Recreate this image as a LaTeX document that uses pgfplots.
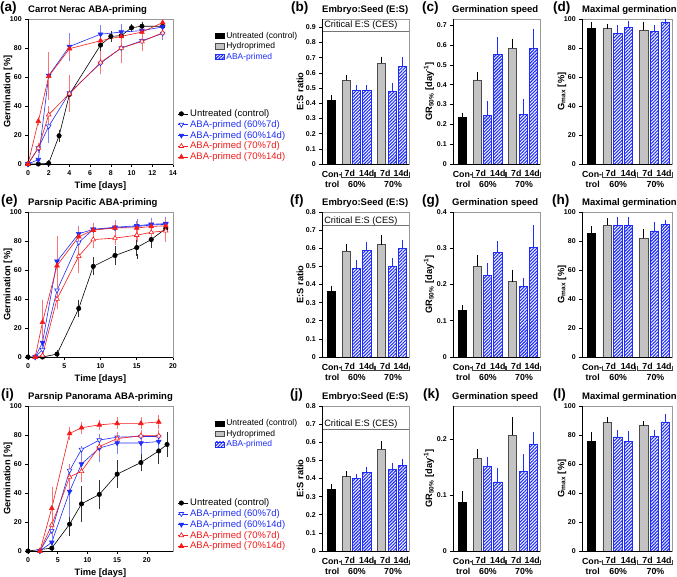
\documentclass[border=0pt]{standalone}
\usepackage{fontspec}
\setmainfont{Liberation Sans}
\usepackage{pgfplots}
\pgfplotsset{compat=1.18}
\usetikzlibrary{patterns.meta}

\definecolor{myblue}{RGB}{30,45,250}
\definecolor{myred}{RGB}{245,25,25}
\definecolor{hydro}{RGB}{195,195,195}

\tikzset{
  aba/.style={pattern={Lines[angle=45,distance=2.3pt,line width=1.1pt]}, pattern color=myblue, draw=myblue, line width=0.6pt},
  hyd/.style={fill=hydro, draw=black!70, line width=0.6pt},
  ctl/.style={fill=black, draw=black, line width=0.6pt},
  lbl/.style={font=\bfseries\fontsize{8.8}{9}\selectfont, inner sep=0pt},
  letter/.style={anchor=west, font=\bfseries\fontsize{13.5}{14}\selectfont, inner sep=0pt},
  ttl/.style={anchor=west, font=\bfseries\fontsize{9.5}{10}\selectfont, inner sep=0pt},
  ces/.style={anchor=west, inner sep=0pt, font=\fontsize{9.2}{10}\selectfont},
}

\pgfplotsset{
  base/.style={
    scale only axis, clip=false,
    axis line style={draw=black!40, line width=0.7pt},
    tick style={black, line width=0.6pt},
    tick align=outside, xtick pos=bottom, ytick pos=left,
    major tick length=2.8pt,
    ticklabel style={font=\bfseries\fontsize{7}{8}\selectfont},
    label style={font=\bfseries\fontsize{9.3}{10}\selectfont},
    /pgf/number format/assume math mode=true,
    /pgf/number format/fixed,
    /pgf/number format/precision=2,
  },
  ylab/.style={every axis y label/.append style={at={([xshift=-#1]rel axis cs:0,0.5)}, anchor=center}},
  gline/.style={base, width=145pt, height=145pt, ymin=0, ymax=100,
    ytick={0,20,40,60,80,100}, xmin=0,
    xlabel={Time [days]}, ylabel={Germination [\%]}, ylab=20pt},
  gbar/.style={base, height=145pt, xmin=-0.9, xmax=7.55, xtick=\empty, ymin=0},
  esax/.style={gbar, width=87pt, ylabel={E:S ratio}, ylab=22pt},
  grax/.style={gbar, width=87pt, ylabel={GR\textsubscript{50\%} [day\textsuperscript{-1}]}, ylab=24pt},
  gmax/.style={gbar, width=90pt, ymax=100, ytick={0,20,40,60,80,100},
    ylabel={G\textsubscript{max} [\%]}, ylab=20pt},
  ebar/.style={error bars/y dir=both, error bars/y explicit,
    error bars/error bar style={#1, line width=0.5pt},
    error bars/error mark options={#1, mark size=2.4pt, line width=0.5pt}},
  eup/.style={error bars/y dir=plus, error bars/y explicit,
    error bars/error bar style={#1, line width=0.6pt},
    error bars/error mark options={#1, mark size=2.6pt, line width=0.6pt}},
  barc/.style={ybar, bar width=0.78, bar shift=0pt},
  untr/.style={black, line width=0.6pt, mark=*, mark size=2.2pt,
    mark options={solid, fill=black}, ebar=black!80},
  pA/.style={myblue, line width=0.6pt, mark=triangle*, mark size=2.7pt,
    mark options={solid, rotate=180, fill=white}, ebar=myblue!60},
  pB/.style={myblue, line width=0.6pt, mark=triangle*, mark size=2.7pt,
    mark options={solid, rotate=180, fill=myblue}, ebar=myblue!60},
  pC/.style={myred, line width=0.6pt, mark=triangle*, mark size=2.7pt,
    mark options={solid, fill=white}, ebar=myred!60},
  pD/.style={myred, line width=0.6pt, mark=triangle*, mark size=2.7pt,
    mark options={solid, fill=myred}, ebar=myred!60},
  linelegend/.style={
    legend style={at={#1}, anchor=north west, draw=none, fill=none,
      font=\fontsize{9.5}{11}\selectfont, row sep=-1.6pt, inner sep=0pt,
      cells={anchor=west}},
    legend image code/.code={%
      \draw[mark repeat=2, mark phase=2, ##1] plot coordinates {(0pt,0pt) (3.5pt,0pt) (10pt,0pt)};}},
  barlegend/.style={scale only axis, width=145pt, height=145pt, hide axis,
    xmin=0, xmax=1, ymin=0, ymax=1,
    legend style={at={#1}, anchor=north west, draw=none, fill=none,
      font=\fontsize{8.5}{10}\selectfont, row sep=-1.2pt, inner sep=0pt,
      cells={anchor=west}},
    legend image code/.code={\draw[##1] (0pt,-2.6pt) rectangle (8.5pt,2.6pt);}},
}

% group labels under the seven bars
\newcommand{\barlabels}{%
  \node[lbl] at ([yshift=-10pt]axis cs:0.05,0) {Con-};
  \node[lbl] at ([yshift=-20pt]axis cs:0.1,0) {trol};
  \node[lbl] at ([yshift=-9.5pt]axis cs:1.8,0) {7d};
  \node[lbl] at ([yshift=-9.5pt]axis cs:3.45,0) {14d};
  \node[lbl] at ([yshift=-9.5pt]axis cs:5.25,0) {7d};
  \node[lbl] at ([yshift=-9.5pt]axis cs:6.8,0) {14d};
  \node[lbl] at ([yshift=-20pt]axis cs:2.5,0) {60\%};
  \node[lbl] at ([yshift=-20pt]axis cs:6.0,0) {70\%};
  \draw[black!75, line width=0.5pt] ([yshift=-8.5pt]axis cs:0.99,0) -- ([yshift=-13.7pt]axis cs:0.99,0) -- ([yshift=-13.7pt]axis cs:4.14,0) -- ([yshift=-8.5pt]axis cs:4.14,0);
  \draw[black!75, line width=0.5pt] ([yshift=-8.5pt]axis cs:4.3,0) -- ([yshift=-13.7pt]axis cs:4.3,0) -- ([yshift=-13.7pt]axis cs:7.53,0) -- ([yshift=-8.5pt]axis cs:7.53,0);
}
\newcommand{\blackframe}{%
  \draw[black, line width=0.8pt] (rel axis cs:0,1) -- (rel axis cs:0,0) -- (rel axis cs:1,0);}

\begin{document}
\begin{tikzpicture}[x=1pt, y=1pt]
\useasboundingbox (0,0) rectangle (677,-577);

% ---------------- panel letters and titles ----------------
\node[letter] at (0,-8) {(a)};   \node[ttl] at (28,-10.3) {Carrot Nerac ABA-priming};
\node[letter] at (291,-8) {(b)}; \node[ttl] at (322,-10.3) {Embryo:Seed (E:S)};
\node[letter] at (422,-8) {(c)}; \node[ttl] at (452,-10.3) {Germination speed};
\node[letter] at (553,-8) {(d)}; \node[ttl] at (582,-10.3) {Maximal germination};

\node[letter] at (1,-201.5) {(e)};   \node[ttl] at (28,-203.5) {Parsnip Pacific ABA-priming};
\node[letter] at (290,-201.5) {(f)}; \node[ttl] at (322,-203.5) {Embryo:Seed (E:S)};
\node[letter] at (422,-201.5) {(g)}; \node[ttl] at (452,-203.5) {Germination speed};
\node[letter] at (552,-201.5) {(h)}; \node[ttl] at (582,-203.5) {Maximal germination};

\node[letter] at (1,-395) {(i)};   \node[ttl] at (28,-397) {Parsnip Panorama ABA-priming};
\node[letter] at (290,-395) {(j)}; \node[ttl] at (322,-397) {Embryo:Seed (E:S)};
\node[letter] at (423,-395) {(k)}; \node[ttl] at (452,-397) {Germination speed};
\node[letter] at (553,-395) {(l)}; \node[ttl] at (582,-397) {Maximal germination};

% ================= Row 1: Carrot Nerac =================
\begin{axis}[gline, at={(28pt,-164pt)}, anchor=south west, xmax=14,
  xtick={0,2,4,6,8,10,12,14}, linelegend={(1.03,0.39)}]
\addplot[untr] coordinates {(0,0) (1,0) (2,0.5) +- (0,0.5) (3,19.5) +- (0,2.5) (4,48) +- (0,2)
  (7,82) +- (0,2.5) (8,88) +- (0,2) (9,88.5) +- (0,1.5) (10,94) +- (0,1) (11,95) +- (0,1.5) (13,95) +- (0,1)};
\addlegendentry{Untreated (control)}
\addplot[pA] coordinates {(0,0) (1,11) +- (0,1.5) (2,26) +- (0,10) (4,49) +- (0,9)
  (7,69.5) +- (0,6) (9,80) +- (0,9) (11,85) +- (0,5) (13,90) +- (0,3)};
\addlegendentry{\textcolor{myblue}{ABA-primed (60\%7d)}}
\addplot[pB] coordinates {(0,0) (1,3) +- (0,1.5) (2,61) +- (0,8) (4,81) +- (0,8)
  (7,89.5) +- (0,4.5) (9,91) +- (0,4) (11,92) +- (0,3) (13,94.5) +- (0,2)};
\addlegendentry{\textcolor{myblue}{ABA-primed (60\%14d)}}
\addplot[pC] coordinates {(0,0) (1,11) +- (0,1.5) (2,34) +- (0,4) (4,48.5) +- (0,11)
  (7,70) +- (0,6) (9,80) +- (0,9) (11,84.5) +- (0,5) (13,90.5) +- (0,2)};
\addlegendentry{\textcolor{myred}{ABA-primed (70\%7d)}}
\addplot[pD] coordinates {(0,0) (1,29.5) +- (0,1) (2,60.5) +- (0,15) (4,79.5) +- (0,5)
  (7,85) +- (0,2) (9,88) +- (0,3) (11,91) +- (0,2) (13,97.5) +- (0,1)};
\addlegendentry{\textcolor{myred}{ABA-primed (70\%14d)}}
\blackframe
\end{axis}
\begin{axis}[barlegend={(1.29,0.925)}, at={(28pt,-164pt)}, anchor=south west]
\addlegendimage{ctl}\addlegendentry{Untreated (control)}
\addlegendimage{hyd}\addlegendentry{Hydroprimed}
\addlegendimage{aba}\addlegendentry{\textcolor{myblue}{ABA-primed}}
\end{axis}

\begin{axis}[esax, at={(322pt,-164pt)}, anchor=south west, ymax=0.955,
  ytick={0,0.1,0.2,0.3,0.4,0.5,0.6,0.7,0.8,0.9}]
\addplot[black!55, line width=0.7pt] coordinates {(-0.9,0.872) (7.55,0.872)};
\addplot[barc, ctl, eup=black] coordinates {(0,0.42) +- (0,0.015)};
\addplot[barc, hyd, eup=black] coordinates {(1.45,0.55) +- (0,0.02) (4.9,0.665) +- (0,0.025)};
\addplot[barc, aba, eup=myblue] coordinates {(2.45,0.485) +- (0,0.018) (3.45,0.485) +- (0,0.018) (5.9,0.48) +- (0,0.035) (6.9,0.645) +- (0,0.04)};
\node[ces] at (axis cs:-0.7,0.914) {Critical E:S (CES)};
\barlabels
\blackframe
\end{axis}

\begin{axis}[grax, at={(453pt,-164pt)}, anchor=south west, ymax=0.732,
  ytick={0,0.1,0.2,0.3,0.4,0.5,0.6,0.7}]
\addplot[barc, ctl, eup=black] coordinates {(0,0.236) +- (0,0.009)};
\addplot[barc, hyd, eup=black] coordinates {(1.45,0.425) +- (0,0.027) (4.9,0.585) +- (0,0.035)};
\addplot[barc, aba, eup=myblue] coordinates {(2.45,0.245) +- (0,0.06) (3.45,0.555) +- (0,0.072) (5.9,0.25) +- (0,0.065) (6.9,0.585) +- (0,0.085)};
\barlabels
\blackframe
\end{axis}

\begin{axis}[gmax, at={(582pt,-164pt)}, anchor=south west]
\addplot[barc, ctl, eup=black] coordinates {(0,93.5) +- (0,2.5)};
\addplot[barc, hyd, eup=black] coordinates {(1.45,93.5) +- (0,1.5) (4.9,92.5) +- (0,3.5)};
\addplot[barc, aba, eup=myblue] coordinates {(2.45,90) +- (0,4) (3.45,94) +- (0,3) (5.9,91.5) +- (0,2.5) (6.9,98) +- (0,0.5)};
\barlabels
\blackframe
\end{axis}

% ================= Row 2: Parsnip Pacific =================
\begin{axis}[gline, at={(28pt,-357pt)}, anchor=south west, xmax=20,
  xtick={0,5,10,15,20}]
\addplot[untr] coordinates {(0,0) (2,0) (4,2) +- (0,1) (7,33.5) +- (0,4.5) (9,62.5) +- (0,4.5)
  (12,70) +- (0,5) (15,75.5) +- (0,6) (17,81) +- (0,4.5) (19,88.5) +- (0,2)};
\addplot[pA] coordinates {(1,0) (2,5) +- (0,3) (4,46) +- (0,8) (7,79) +- (0,8) (9,88) +- (0,3)
  (12,89) +- (0,3) (15,90) +- (0,3) (17,91) +- (0,3) (19,91.5) +- (0,3)};
\addplot[pB] coordinates {(1,0) (2,10) +- (0,3) (4,66) +- (0,7) (7,85) +- (0,4) (9,88) +- (0,3)
  (12,89.5) +- (0,3) (15,90.5) +- (0,3) (17,91.5) +- (0,3) (19,92) +- (0,3)};
\addplot[pC] coordinates {(1,0) (2,1) +- (0,1) (4,40) +- (0,5) (7,69.5) +- (0,10) (9,81) +- (0,4)
  (12,82) +- (0,3) (15,84) +- (0,3) (17,86) +- (0,3) (19,87) +- (0,6)};
\addplot[pD] coordinates {(1,0) (2,24) +- (0,14) (4,63) +- (0,19) (7,83) +- (0,5) (9,87.5) +- (0,3)
  (12,89) +- (0,3) (15,89) +- (0,3) (17,90) +- (0,3) (19,90.5) +- (0,3)};
\blackframe
\end{axis}

\begin{axis}[esax, at={(322pt,-357pt)}, anchor=south west, ymax=0.8,
  ytick={0,0.1,0.2,0.3,0.4,0.5,0.6,0.7,0.8}]
\addplot[black!55, line width=0.7pt] coordinates {(-0.9,0.724) (7.55,0.724)};
\addplot[barc, ctl, eup=black] coordinates {(0,0.365) +- (0,0.015)};
\addplot[barc, hyd, eup=black] coordinates {(1.45,0.585) +- (0,0.025) (4.9,0.62) +- (0,0.04)};
\addplot[barc, aba, eup=myblue] coordinates {(2.45,0.49) +- (0,0.03) (3.45,0.59) +- (0,0.03) (5.9,0.50) +- (0,0.03) (6.9,0.60) +- (0,0.03)};
\node[ces] at (axis cs:-0.7,0.75) {Critical E:S (CES)};
\barlabels
\blackframe
\end{axis}

\begin{axis}[grax, at={(453pt,-357pt)}, anchor=south west, ymax=0.4,
  ytick={0,0.1,0.2,0.3,0.4}]
\addplot[barc, ctl, eup=black] coordinates {(0,0.129) +- (0,0.006)};
\addplot[barc, hyd, eup=black] coordinates {(1.45,0.25) +- (0,0.025) (4.9,0.208) +- (0,0.026)};
\addplot[barc, aba, eup=myblue] coordinates {(2.45,0.225) +- (0,0.027) (3.45,0.289) +- (0,0.023) (5.9,0.194) +- (0,0.018) (6.9,0.302) +- (0,0.054)};
\barlabels
\blackframe
\end{axis}

\begin{axis}[gmax, at={(582pt,-357pt)}, anchor=south west]
\addplot[barc, ctl, eup=black] coordinates {(0,85) +- (0,3.5)};
\addplot[barc, hyd, eup=black] coordinates {(1.45,91) +- (0,3) (4.9,82) +- (0,4.5)};
\addplot[barc, aba, eup=myblue] coordinates {(2.45,91) +- (0,4) (3.45,91) +- (0,4) (5.9,87) +- (0,4) (6.9,91.5) +- (0,1)};
\barlabels
\blackframe
\end{axis}

% ================= Row 3: Parsnip Panorama =================
\begin{axis}[gline, at={(28pt,-551pt)}, anchor=south west, xmax=24.4,
  xtick={0,5,10,15,20}, linelegend={(1.03,0.375)}]
\addplot[untr] coordinates {(0,0) (4,2) +- (0,1) (7,18.5) +- (0,6.5) (9,32.5) +- (0,10.5)
  (12,39) +- (0,8.5) (15,53) +- (0,8) (19,61) +- (0,4.5) (22,69) +- (0,7.5) (23.4,73.5) +- (0,7)};
\addlegendentry{Untreated (control)}
\addplot[pA] coordinates {(2,0) (4,14) +- (0,3) (7,55.5) +- (0,3) (9,70) +- (0,1)
  (12,76.5) +- (0,1.5) (15,78.5) +- (0,1.5) (19,79) +- (0,1) (22,79) +- (0,1)};
\addlegendentry{\textcolor{myblue}{ABA-primed (60\%7d)}}
\addplot[pB] coordinates {(2,0) (4,6) +- (0,2) (7,41) +- (0,16) (9,60) +- (0,11)
  (12,71) +- (0,8) (15,74.5) +- (0,6) (19,74.5) +- (0,6) (22,75.5) +- (0,5)};
\addlegendentry{\textcolor{myblue}{ABA-primed (60\%14d)}}
\addplot[pC] coordinates {(2,0) (4,18) +- (0,5) (7,51) +- (0,7) (9,55) +- (0,6)
  (12,72) +- (0,5) (15,77.5) +- (0,3) (19,79.5) +- (0,2) (22,79.5) +- (0,2)};
\addlegendentry{\textcolor{myred}{ABA-primed (70\%7d)}}
\addplot[pD] coordinates {(2,0) (4,29.5) +- (0,13) (7,81) +- (0,3) (9,85) +- (0,2.5)
  (12,87) +- (0,2) (15,88) +- (0,2.5) (19,88) +- (0,2.5) (22,89) +- (0,3)};
\addlegendentry{\textcolor{myred}{ABA-primed (70\%14d)}}
\blackframe
\end{axis}
\begin{axis}[barlegend={(1.29,0.92)}, at={(28pt,-551pt)}, anchor=south west]
\addlegendimage{ctl}\addlegendentry{Untreated (control)}
\addlegendimage{hyd}\addlegendentry{Hydroprimed}
\addlegendimage{aba}\addlegendentry{\textcolor{myblue}{ABA-primed}}
\end{axis}

\begin{axis}[esax, at={(322pt,-551pt)}, anchor=south west, ymax=0.8,
  ytick={0,0.1,0.2,0.3,0.4,0.5,0.6,0.7,0.8}]
\addplot[black!55, line width=0.7pt] coordinates {(-0.9,0.671) (7.55,0.671)};
\addplot[barc, ctl, eup=black] coordinates {(0,0.34) +- (0,0.015)};
\addplot[barc, hyd, eup=black] coordinates {(1.45,0.41) +- (0,0.015) (4.9,0.562) +- (0,0.033)};
\addplot[barc, aba, eup=myblue] coordinates {(2.45,0.40) +- (0,0.012) (3.45,0.435) +- (0,0.015) (5.9,0.452) +- (0,0.02) (6.9,0.472) +- (0,0.02)};
\node[ces] at (axis cs:-0.7,0.702) {Critical E:S (CES)};
\barlabels
\blackframe
\end{axis}

\begin{axis}[grax, at={(453pt,-551pt)}, anchor=south west, ymax=0.26,
  ytick={0,0.1,0.2}]
\addplot[barc, ctl, eup=black] coordinates {(0,0.0877) +- (0,0.015)};
\addplot[barc, hyd, eup=black] coordinates {(1.45,0.166) +- (0,0.012) (4.9,0.208) +- (0,0.027)};
\addplot[barc, aba, eup=myblue] coordinates {(2.45,0.151) +- (0,0.013) (3.45,0.124) +- (0,0.02) (5.9,0.143) +- (0,0.026) (6.9,0.192) +- (0,0.016)};
\barlabels
\blackframe
\end{axis}

\begin{axis}[gmax, at={(582pt,-551pt)}, anchor=south west]
\addplot[barc, ctl, eup=black] coordinates {(0,75.5) +- (0,4.5)};
\addplot[barc, hyd, eup=black] coordinates {(1.45,88.9) +- (0,1.4) (4.9,87) +- (0,0.7)};
\addplot[barc, aba, eup=myblue] coordinates {(2.45,78.7) +- (0,2.8) (3.45,75.5) +- (0,5.2) (5.9,79) +- (0,3) (6.9,89) +- (0,3.5)};
\barlabels
\blackframe
\end{axis}

\end{tikzpicture}
\end{document}
